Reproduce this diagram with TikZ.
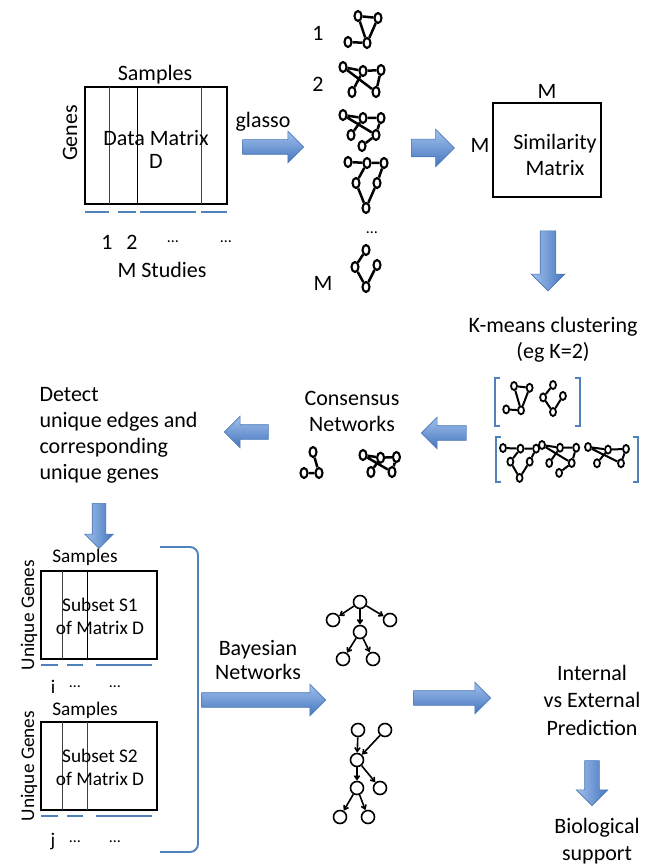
\documentclass[tikz,border=0pt]{standalone}
\usepackage{fontspec}
\setmainfont{Carlito}
\usetikzlibrary{shapes.geometric,shapes.arrows,arrows.meta}

\definecolor{blueline}{RGB}{79,129,189}
\definecolor{arrowtop}{RGB}{160,192,236}
\definecolor{arrowbot}{RGB}{70,118,190}
\definecolor{arrowline}{RGB}{74,120,182}

% little gene networks, #1 = name prefix
\newcommand{\netone}[1]{%
 \path (0,0) node[gnode] (#1a) {}
 (20,2) node[gnode] (#1b) {}
 (-10,26) node[gnode] (#1c) {}
 (9,27) node[gnode] (#1d) {};
 \draw[gedge] (#1a) -- (#1b) -- (#1d) -- (#1a) (#1c) -- (#1d);
}
\newcommand{\nettwo}[1]{%
 \path (0,0) node[gnode] (#1a) {}
 (20,4) node[gnode] (#1b) {}
 (38,3) node[gnode] (#1c) {}
 (9,25) node[gnode] (#1d) {}
 (33,25) node[gnode] (#1e) {};
 \draw[gedge] (#1a) -- (#1b) -- (#1c) -- (#1e) -- (#1a) (#1b) -- (#1d);
}
\newcommand{\netthree}[1]{%
 \path (0,0) node[gnode] (#1a) {}
 (20,3) node[gnode] (#1b) {}
 (38,3) node[gnode] (#1c) {}
 (8,20) node[gnode] (#1d) {}
 (33,20) node[gnode] (#1e) {}
 (19,31) node[gnode] (#1f) {};
 \draw[gedge] (#1a) -- (#1b) -- (#1c) -- (#1e) -- (#1a) (#1b) -- (#1d) (#1e) -- (#1f);
}
\newcommand{\netfour}[1]{%
 \path (0,0) node[gnode] (#1a) {}
 (19,1) node[gnode] (#1b) {}
 (36,1) node[gnode] (#1c) {}
 (8,21) node[gnode] (#1d) {}
 (29,21) node[gnode] (#1e) {}
 (18,46) node[gnode] (#1f) {};
 \draw[gedge] (#1a) -- (#1b) -- (#1c) -- (#1e) -- (#1f) -- (#1d) -- (#1b);
}
\newcommand{\netm}[1]{%
 \path (0,0) node[gnode] (#1a) {}
 (-11,17) node[gnode] (#1b) {}
 (11,15) node[gnode] (#1c) {}
 (0,37) node[gnode] (#1d) {};
 \draw[gedge] (#1a) -- (#1b) -- (#1d) -- (#1c);
}

\begin{document}
\begin{tikzpicture}[%
 x=1pt, y=-1pt,
 font=\fontsize{22}{26}\selectfont,
 small/.style={
 	font=\fontsize{19.3}{23}\selectfont
 },
 tiny/.style={
 	font=\fontsize{16}{18}\selectfont
 },
 matbox/.style={
 	rectangle,
 	draw,
 	line width=2.1pt,
 	inner sep=0pt
 },
 colline/.style={
 	draw,
 	line width=0.9pt,
 	black!75
 },
 uline/.style={
 	draw=blueline,
 	line width=2.3pt
 },
 bracket/.style={
 	draw=blueline,
 	line width=1.9pt
 },
 gnode/.style={
 	ellipse,
 	draw,
 	line width=2.1pt,
 	minimum width=7pt,
 	minimum height=10pt,
 	inner sep=0pt
 },
 gedge/.style={
 	draw,
 	line width=2.5pt
 },
 mini/.style={
 	gnode/.append style={minimum width=6pt,minimum height=8pt,line width=1.8pt},
 	gedge/.append style={line width=2pt}
 },
 bnode/.style={
 	circle,
 	draw,
 	line width=1.6pt,
 	minimum size=13pt,
 	inner sep=0pt
 },
 bedge/.style={
 	draw,
 	line width=1.6pt,
 	-{Straight Barb[angle=70:4.5pt]}
 },
 rarrow/.style={
 	single arrow,
 	draw=arrowline,
 	line width=0.6pt,
 	top color=arrowtop,
 	bottom color=arrowbot,
 	minimum width=0pt,
 	single arrow head extend=8.5pt,
 	inner sep=7pt
 },
 larrow/.style={
 	rarrow,
 	shape border rotate=180
 },
 darrow/.style={
 	rarrow,
 	left color=arrowtop,
 	right color=arrowbot,
 	shape border rotate=270
 }
 ]
\useasboundingbox (0,0) rectangle (647,866);

% data matrix
\node (samp) at (155,75) {Samples};
\node[rotate=90] (genes) at (70,133) {Genes};
\node[matbox, minimum width=142pt, minimum height=117pt] (D) at (156,145.5) {};
\draw[colline] (109,87) -- (109,204);
\draw[colline, black] (137,87) -- (137,204);
\draw[colline] (201,87) -- (201,204);
\node[align=center, font=\fontsize{22}{23}\selectfont] (Dtxt) at (156,149) {Data Matrix\\D};
\draw[uline] (85,212) -- (109,212) (118,212) -- (136,212)
 (140,212) -- (196,212) (201,212) -- (227,212);
\path (107,242) node (s1) {1}
 (132,242) node (s2) {2}
 (173,242) node[tiny] (s3) {…}
 (226,242) node[tiny] (s4) {…}
 (162,270) node (stud) {M Studies};

\node (glasso) at (263,122) {glasso};
\node[rarrow, minimum height=61pt] (ga) at (269.5,147) {};

% one network per study
\path (318,33) node (l1) {1}
 (318,84) node (l2) {2}
 (372,233) node[tiny] (ldots) {…}
 (323,283) node (lM) {M};
\begin{scope}[shift={(358,16)}] \netone{ca} \end{scope}
\begin{scope}[shift={(343,67)}] \nettwo{cb} \end{scope}
\begin{scope}[shift={(343,115)}] \netthree{cc} \end{scope}
\begin{scope}[shift={(348,162)}] \netfour{cd} \end{scope}
\begin{scope}[shift={(366,250)}] \netm{cm} \end{scope}

\node[rarrow, minimum height=43pt, inner sep=8.5pt, single arrow head extend=10pt] (cs) at (428.5,148) {};

% similarity matrix
\node[rectangle, draw, line width=1.2pt, minimum width=108pt, minimum height=94pt] (S) at (547,150) {};
\node[align=center] (Stxt) at (555,155) {Similarity\\Matrix};
\node (Mtop) at (547,91) {M};
\node (Mleft) at (480,145) {M};

\node[darrow, minimum height=60pt, inner sep=7.5pt, single arrow head extend=9pt] (sk) at (548,257) {};

% clustering
\node[align=center] (km) at (553,340) {K-means clustering\\(eg K=2)};
\draw[bracket] (500,378) -- (495,378) -- (495,426) -- (500,426);
\draw[bracket] (575,378) -- (580,378) -- (580,426) -- (575,426);
\draw[bracket] (501,437) -- (496,437) -- (496,482) -- (501,482);
\draw[bracket] (633,437) -- (638,437) -- (638,482) -- (633,482);
\begin{scope}[mini, shift={(514,386)}, xscale=0.78, yscale=0.9] \netone{ka} \end{scope}
\begin{scope}[mini, shift={(553,385)}, xscale=0.9, yscale=0.73] \netm{km} \end{scope}
\begin{scope}[mini, shift={(503,448)}, xscale=0.92, yscale=0.65] \netfour{kd} \end{scope}
\begin{scope}[mini, shift={(542,445)}, xscale=0.9, yscale=0.9] \netthree{kc} \end{scope}
\begin{scope}[mini, shift={(588,447)}, xscale=1, yscale=0.65] \nettwo{kb} \end{scope}

\node[larrow, minimum height=45pt] (kc) at (447.5,433) {};

% consensus
\node[align=center] (cons) at (352,411) {Consensus\\Networks};
\path (313,452) node[gnode] (qa) {}
 (304,473) node[gnode] (qb) {}
 (319,473) node[gnode] (qc) {};
\draw[gedge] (qa) -- (qc) -- (qb);
\begin{scope}[shift={(363,455)}, xscale=0.88, yscale=0.68] \nettwo{qn} \end{scope}

\node[larrow, minimum height=44pt] (cd) at (250,432) {};

\node[anchor=west, align=left] (det) at (36,435) {Detect\\unique edges and\\corresponding\\unique genes};

\node[darrow, minimum height=45pt, inner sep=6.5pt, single arrow head extend=7.5pt] (db) at (99,522.5) {};

% subsets of the data matrix
\node[small] (samp1) at (85,557) {Samples};
\node[small, rotate=90] (ug1) at (29,615) {Unique Genes};
\node[matbox, minimum width=116pt, minimum height=88pt] (B1) at (99,615) {};
\draw[colline] (62,571) -- (62,659);
\draw[colline, black] (87,571) -- (87,659);
\node[small, align=center] (B1txt) at (100,616) {Subset S1\\of Matrix D};
\draw[uline] (41,665) -- (58,665) (67,665) -- (83,665) (96,665) -- (152,665);
\path (53,687) node[small] (i1) {i}
 (75,687) node[tiny] (i2) {…}
 (115,687) node[tiny] (i3) {…};

\node[small] (samp2) at (85,710) {Samples};
\node[small, rotate=90] (ug2) at (29,766) {Unique Genes};
\node[matbox, minimum width=116pt, minimum height=88pt] (B2) at (99,766) {};
\draw[colline] (62,722) -- (62,810);
\draw[colline] (87,722) -- (87,810);
\node[small, align=center] (B2txt) at (100,767) {Subset S2\\of Matrix D};
\draw[uline] (41,816) -- (58,816) (67,816) -- (83,816) (96,816) -- (152,816);
\path (53,842) node[small] (j1) {j}
 (75,842) node[tiny] (j2) {…}
 (115,842) node[tiny] (j3) {…};

\draw[bracket, rounded corners=8pt] (160,547) -- (198,547) -- (198,852) -- (160,852);

% bayesian networks
\node[align=center, font=\fontsize{22}{24}\selectfont] (bay) at (258,660) {Bayesian\\Networks};
\node[rarrow, minimum height=124pt] (bn) at (260,700) {};

\path (360,602) node[bnode] (ua) {}
 (333,620) node[bnode] (ub) {}
 (360,632) node[bnode] (uc) {}
 (390,620) node[bnode] (ud) {}
 (343,659) node[bnode] (ue) {}
 (373,659) node[bnode] (uf) {};
\foreach \a/\b in {ua/ub,ua/uc,ua/ud,uc/ue,uc/uf}
 \draw[bedge] (\a) -- (\b);

\path (358,730) node[bnode] (va) {}
 (385,730) node[bnode] (vb) {}
 (357,760) node[bnode] (vc) {}
 (380,788) node[bnode] (vd) {}
 (357,788) node[bnode] (ve) {}
 (340,817) node[bnode] (vf) {}
 (368,817) node[bnode] (vg) {};
\foreach \a/\b in {va/vc,vb/vc,vc/ve,vc/vd,ve/vf,ve/vg}
 \draw[bedge] (\a) -- (\b);

\node[rarrow, minimum height=77pt] (bi) at (448.5,698) {};

\node[align=center, font=\fontsize{22}{27.5}\selectfont] (pred) at (592,700) {Internal\\vs External\\Prediction};
\node[darrow, minimum height=45pt] (pb) at (592,779.5) {};
\node[align=center, font=\fontsize{22}{27}\selectfont] (bio) at (597,841) {Biological\\support};
 \end{tikzpicture}
\end{document}
